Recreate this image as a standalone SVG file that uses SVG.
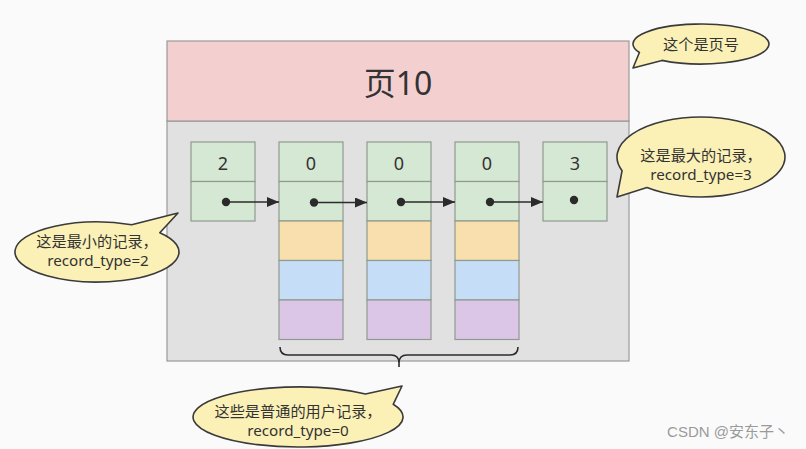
<svg xmlns="http://www.w3.org/2000/svg" width="806" height="449" viewBox="0 0 806 449">
<defs>
<style>
.t{font-family:"Noto Sans","Noto Sans CJK SC",sans-serif;fill:#333;}
.s{font-size:15.2px;}
.cell{stroke:#8f9a8e;stroke-width:1.2;}
.g{fill:#d5e8d4;}
.o{fill:#f8dfad;}
.b{fill:#c6ddf7;}
.p{fill:#dcc6e8;}
.bub{fill:#fbf1b7;stroke:#3a3a3a;stroke-width:1.6;stroke-linejoin:round;}
.ln{stroke:#2b2b2b;stroke-width:1.6;fill:none;}
</style>
<marker id="ah" markerWidth="12" markerHeight="10" refX="12" refY="5" orient="auto" markerUnits="userSpaceOnUse">
<path d="M0,0 L12,5 L0,10 z" fill="#2b2b2b"/>
</marker>
</defs>
<rect width="806" height="449" fill="#fafafa"/>
<g id="page">
<rect x="167" y="121" width="462" height="240" fill="#e1e1e1" stroke="#9a9a9a" stroke-width="1.2"/>
<rect x="167" y="41" width="462" height="80" fill="#f4cfcf" stroke="#9a9a9a" stroke-width="1.2"/>
<text class="t" x="398" y="95" font-size="32" text-anchor="middle">页10</text>
</g>
<g id="rec-infimum">
<rect class="cell g" x="191" y="142" width="64" height="39.5"/>
<rect class="cell g" x="191" y="181.5" width="64" height="39.5"/>
<text class="t" x="223" y="170" font-size="18" text-anchor="middle">2</text>
<circle cx="226" cy="202" r="4.2" fill="#2b2b2b"/>
</g>
<g id="rec-1">
<rect class="cell g" x="279" y="142" width="64" height="39.5"/>
<rect class="cell g" x="279" y="181.5" width="64" height="39.5"/>
<rect class="cell o" x="279" y="221" width="64" height="39.5"/>
<rect class="cell b" x="279" y="260.5" width="64" height="39.5"/>
<rect class="cell p" x="279" y="300" width="64" height="39.5"/>
<text class="t" x="311" y="170" font-size="18" text-anchor="middle">0</text>
<circle cx="314" cy="202.5" r="4.2" fill="#2b2b2b"/>
</g>
<g id="rec-2">
<rect class="cell g" x="367" y="142" width="64" height="39.5"/>
<rect class="cell g" x="367" y="181.5" width="64" height="39.5"/>
<rect class="cell o" x="367" y="221" width="64" height="39.5"/>
<rect class="cell b" x="367" y="260.5" width="64" height="39.5"/>
<rect class="cell p" x="367" y="300" width="64" height="39.5"/>
<text class="t" x="399" y="170" font-size="18" text-anchor="middle">0</text>
<circle cx="401" cy="202" r="4.2" fill="#2b2b2b"/>
</g>
<g id="rec-3">
<rect class="cell g" x="455" y="142" width="64" height="39.5"/>
<rect class="cell g" x="455" y="181.5" width="64" height="39.5"/>
<rect class="cell o" x="455" y="221" width="64" height="39.5"/>
<rect class="cell b" x="455" y="260.5" width="64" height="39.5"/>
<rect class="cell p" x="455" y="300" width="64" height="39.5"/>
<text class="t" x="487" y="170" font-size="18" text-anchor="middle">0</text>
<circle cx="490" cy="202" r="4.2" fill="#2b2b2b"/>
</g>
<g id="rec-supremum">
<rect class="cell g" x="543" y="142" width="64" height="39.5"/>
<rect class="cell g" x="543" y="181.5" width="64" height="39.5"/>
<text class="t" x="575" y="170" font-size="18" text-anchor="middle">3</text>
<circle cx="574" cy="200" r="4.2" fill="#2b2b2b"/>
</g>
<g id="connectors">
<line class="ln" x1="226" y1="202" x2="279" y2="202" marker-end="url(#ah)"/>
<line class="ln" x1="314" y1="202.5" x2="367" y2="202.5" marker-end="url(#ah)"/>
<line class="ln" x1="401" y1="202" x2="455" y2="202" marker-end="url(#ah)"/>
<line class="ln" x1="490" y1="202" x2="543" y2="202" marker-end="url(#ah)"/>
</g>
<g id="brace">
<path class="ln" d="M280,347 Q280,355 288,355 L391,355 Q399,355 399,363 L399,367 M399,363 Q399,355 407,355 L510,355 Q518,355 518,347"/>
</g>
<g id="callout-page-no">
<path class="bub" d="M639.4,52.5 A68,20 0 1 1 662,60.4 L633,68 Z"/>
<text class="t s" x="701" y="50" text-anchor="middle">这个是页号</text>
</g>
<g id="callout-max">
<path class="bub" d="M622.1,170.7 A84,40 0 1 1 647,187.6 L617,197 Z"/>
<text class="t s" x="701" y="161" text-anchor="middle">这是最大的记录，</text>
<text class="t s" x="701" y="180" text-anchor="middle">record_type=3</text>
</g>
<g id="callout-min">
<path class="bub" d="M131.7,224.8 A82,30 0 1 0 159.8,232.7 L178,213 Z"/>
<text class="t s" x="97" y="247" text-anchor="middle">这是最小的记录，</text>
<text class="t s" x="98" y="266" text-anchor="middle">record_type=2</text>
</g>
<g id="callout-user">
<path class="bub" d="M365.5,394 A105,30 0 1 0 393.2,404.3 L402,386 Z"/>
<text class="t s" x="298" y="417" text-anchor="middle">这些是普通的用户记录，</text>
<text class="t s" x="298" y="436" text-anchor="middle">record_type=0</text>
</g>
<text x="728" y="437" font-size="15" text-anchor="middle" fill="#9a9a9a" font-family="'Liberation Sans','Noto Sans CJK SC',sans-serif">CSDN @安东子丶</text>
</svg>
